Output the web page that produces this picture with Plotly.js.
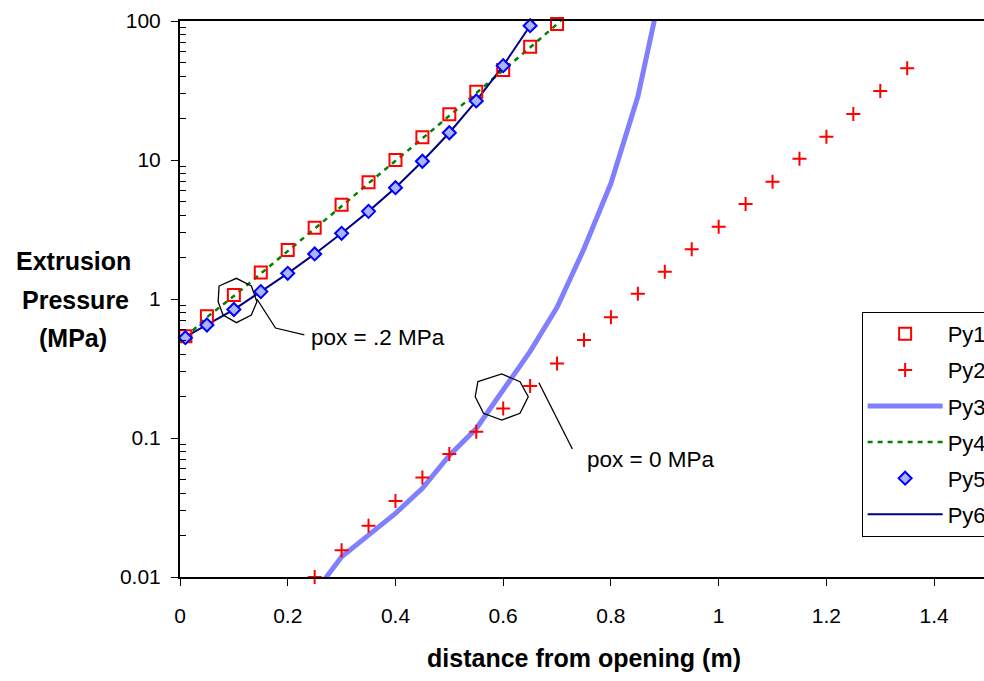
<!DOCTYPE html>
<html><head><meta charset="utf-8">
<script src="https://cdn.plot.ly/plotly-3.0.1.min.js"></script>
<style>html,body{margin:0;padding:0;overflow:hidden;background:#fff}#chart{width:1000px;height:681px}</style>
</head><body><div id="chart"></div>
<script>
// ---- data ----
const xPy1 = [0.01,0.05,0.1,0.15,0.2,0.25,0.3,0.35,0.4,0.45,0.5,0.55,0.6,0.65,0.7];
const yPy1 = [0.54,0.75,1.07,1.55,2.25,3.26,4.77,6.92,10.0,14.6,21.3,31.0,44.4,65.3,95.1];

const xPy2 = [0.25,0.3,0.35,0.4,0.45,0.5,0.55,0.6,0.65,0.7,0.75,0.8,0.85,0.9,0.95,1.0,1.05,1.1,1.15,1.2,1.25,1.3,1.35];
const yPy2 = [0.0100,0.0156,0.0234,0.0352,0.0519,0.0767,0.111,0.163,0.237,0.344,0.507,0.738,1.09,1.57,2.28,3.31,4.82,6.98,10.2,14.7,21.4,31.4,45.7];

const xPy3 = [0.25,0.3,0.35,0.4,0.45,0.5,0.55,0.6,0.65,0.7,0.75,0.8,0.85,0.9];
const yPy3 = [0.0077,0.014,0.020,0.0287,0.0435,0.075,0.117,0.22,0.42,0.87,2.3,6.8,28.6,225];

const xPy4 = [0.01,0.05,0.1,0.15,0.2,0.25,0.3,0.35,0.4,0.45,0.5,0.55,0.6,0.65,0.7,0.72];
const yPy4 = [0.53,0.74,1.05,1.52,2.2,3.2,4.65,6.8,9.8,14.3,20.8,30.2,43.8,64.5,95,114];

const xPy5 = [0.01,0.05,0.1,0.15,0.2,0.25,0.3,0.35,0.4,0.45,0.5,0.55,0.6,0.65];
const yPy5 = [0.527,0.65,0.84,1.13,1.53,2.11,2.97,4.27,6.32,9.79,15.7,26.6,47.7,92.5];

const xPy6 = [0,0.05,0.1,0.15,0.2,0.25,0.3,0.35,0.4,0.45,0.5,0.55,0.6,0.65,0.665];
const yPy6 = [0.507,0.65,0.84,1.13,1.53,2.11,2.97,4.27,6.32,9.79,15.7,26.6,47.7,92.5,113];

const yTickVals = [0.01,0.1,1,10,100];
const yTickText = ['0.01','0.1','1','10','100'];
const xTitle = 'distance from opening (m)';
const yTitleLines = ['Extrusion','Pressure','(MPa)'];
const note1 = 'pox = .2 MPa';
const note2 = 'pox = 0 MPa';

// ---- styling / geometry ----
const FONT = '"Liberation Sans", Arial, sans-serif';
const L = 180, T = 21, PW = 812, PH = 556;
const px = v => (v - L) / PW;
const py = v => (T + PH - v) / PH;
const path = (pts, close) => pts.map((p, i) => (i ? 'L' : 'M') + px(p[0]).toFixed(4) + ',' + py(p[1]).toFixed(4)).join(' ') + (close ? ' Z' : '');

const minorVals = [];
for (let k = -2; k <= 1; k++) for (let m = 2; m <= 9; m++) minorVals.push(m * Math.pow(10, k));

const traces = [
  {name:'Py3', x:xPy3, y:yPy3, mode:'lines', line:{color:'#8080FF', width:5}, legendgroup:'g3', legendrank:3},
  {name:'Py4', x:xPy4, y:yPy4, mode:'lines', line:{color:'#008000', width:2.5, dash:'5px,5px'}, legendgroup:'g4', legendrank:4},
  {name:'Py6', x:xPy6, y:yPy6, mode:'lines', line:{color:'#000080', width:2}, legendgroup:'g6', legendrank:6},
  {name:'Py1', x:xPy1, y:yPy1, mode:'markers', cliponaxis:false,
   marker:{symbol:'square-open', size:12, color:'#FF0000', line:{width:2, color:'#FF0000'}}, legendgroup:'g1', legendrank:1},
  {name:'Py2', x:xPy2, y:yPy2, mode:'markers', cliponaxis:false,
   marker:{symbol:'cross-thin-open', size:10, color:'#FF0000', line:{width:2, color:'#FF0000'}}, legendgroup:'g2', legendrank:2},
  {name:'Py5', x:xPy5, y:yPy5, mode:'markers', cliponaxis:false,
   marker:{symbol:'diamond', size:10, color:'#AAB4FF', line:{width:2, color:'#0000FF'}}, legendgroup:'g5', legendrank:5}
];

const axBase = {showgrid:false, zeroline:false, automargin:false, tickcolor:'#000', tickwidth:1};

const layout = {
  width: 1000, height: 681,
  margin: {l:L, r:1000 - L - PW, t:T, b:681 - T - PH, pad:0},
  paper_bgcolor:'#fff', plot_bgcolor:'#fff',
  font: {family: FONT, color:'#000', size: 21},
  showlegend: true,
  xaxis: Object.assign({}, axBase, {
    range:[0,1.5], tick0:0, dtick:0.2, ticks:'outside', ticklen:7,
    showline:true, linewidth:2, linecolor:'#000', mirror:true,
    tickfont:{family:FONT, size:21, color:'#000'}, ticklabelstandoff: 12,
    title:{text:'<b>' + xTitle + '</b>', font:{family:FONT, size:25, color:'#000'}, standoff: 23}
  }),
  yaxis: Object.assign({}, axBase, {
    type:'log', range:[-2,2], tickmode:'array', tickvals:yTickVals, ticktext:yTickText,
    ticks:'outside', ticklen:7, showline:true, linewidth:2, linecolor:'#000', mirror:true,
    tickfont:{family:FONT, size:21, color:'#000'}, ticklabelstandoff: 6,
    minor:{tickmode:'array', tickvals:minorVals, ticks:'inside', ticklen:6, tickcolor:'#000', tickwidth:1, showgrid:false}
  }),
  xaxis2: Object.assign({}, axBase, {
    overlaying:'x', anchor:'y', side:'bottom', range:[0,1.5], tick0:0, dtick:0.2,
    ticks:'inside', ticklen:7, showticklabels:false, showline:false
  }),
  yaxis2: Object.assign({}, axBase, {
    overlaying:'y', anchor:'x', side:'left', type:'log', range:[-2,2], tickmode:'array', tickvals:yTickVals,
    ticks:'inside', ticklen:7, showticklabels:false, showline:false
  }),
  legend: {
    x: px(865), y: py(312), xanchor:'left', yanchor:'top',
    bgcolor:'#fff', bordercolor:'#000', borderwidth:1,
    font:{family:FONT, size:22, color:'#000'},
    traceorder:'grouped', tracegroupgap:4.5, itemwidth:75
  },
  annotations: [
    {xref:'paper', yref:'paper', x:px(73), y:py(261), text:'<b>' + yTitleLines[0] + '</b>', showarrow:false, xanchor:'center', yanchor:'middle', font:{family:FONT, size:25, color:'#000'}},
    {xref:'paper', yref:'paper', x:px(75), y:py(300), text:'<b>' + yTitleLines[1] + '</b>', showarrow:false, xanchor:'center', yanchor:'middle', font:{family:FONT, size:25, color:'#000'}},
    {xref:'paper', yref:'paper', x:px(72), y:py(338), text:'<b>' + yTitleLines[2] + '</b>', showarrow:false, xanchor:'center', yanchor:'middle', font:{family:FONT, size:25, color:'#000'}},
    {xref:'paper', yref:'paper', x:px(310), y:py(337), text:note1, showarrow:false, xanchor:'left', yanchor:'middle', font:{family:FONT, size:22.5, color:'#000'}},
    {xref:'paper', yref:'paper', x:px(587), y:py(459), text:note2, showarrow:false, xanchor:'left', yanchor:'middle', font:{family:FONT, size:22.5, color:'#000'}}
  ],
  shapes: [
    {type:'path', xref:'paper', yref:'paper', line:{color:'#000', width:1.3},
     path: path([[219.3,286],[236.7,278.3],[251.7,286],[257.3,301.7],[251.7,315],[236.7,322.7],[223.3,315],[218.3,301.7]], true)},
    {type:'path', xref:'paper', yref:'paper', line:{color:'#000', width:1.3},
     path: path([[257.3,299],[276,328],[305,335]], false)},
    {type:'path', xref:'paper', yref:'paper', line:{color:'#000', width:1.3},
     path: path([[479.3,381.7],[503.3,374],[521.7,381.7],[530,396.7],[521.7,413.3],[503.3,420],[485,413.3],[476.7,396.7]], true)},
    {type:'path', xref:'paper', yref:'paper', line:{color:'#000', width:1.3},
     path: path([[540.7,382.7],[574.3,449]], false)}
  ]
};

Plotly.newPlot('chart', traces, layout, {displayModeBar:false, responsive:false, staticPlot:true});
</script>
</body></html>
